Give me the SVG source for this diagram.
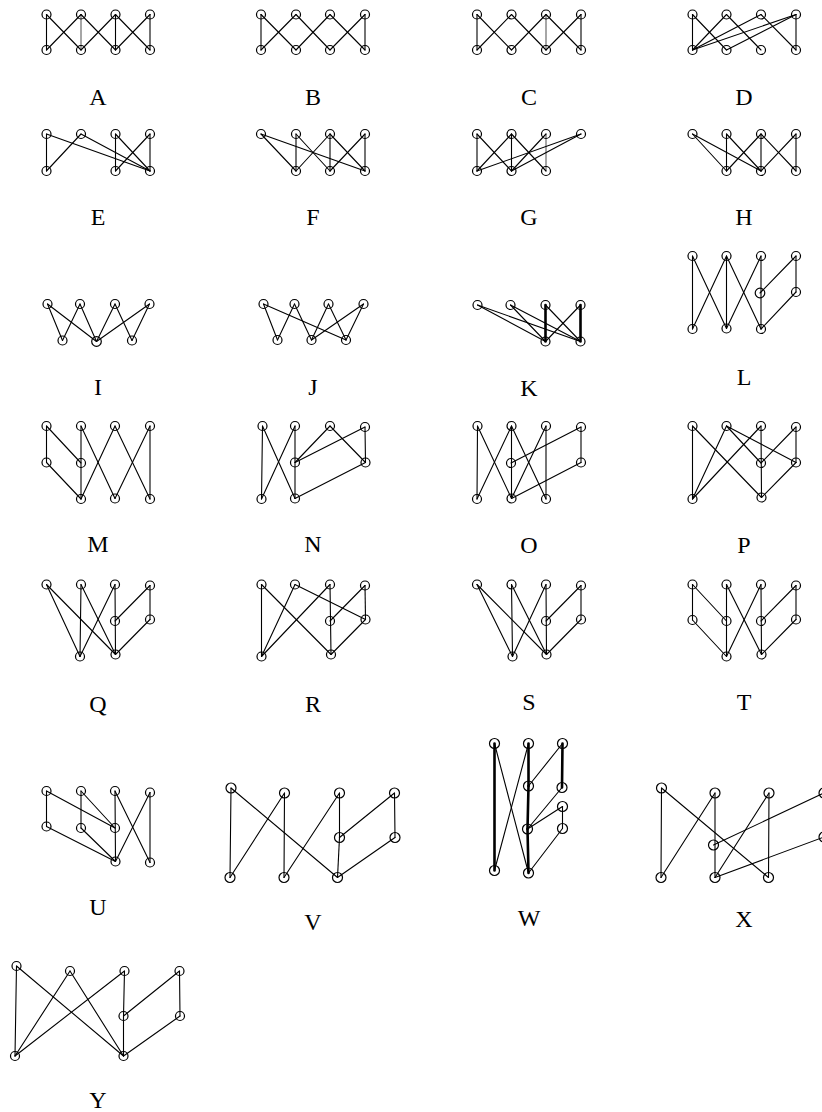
<svg xmlns="http://www.w3.org/2000/svg" width="822" height="1112" viewBox="0 0 822 1112">
<style>
.e line{stroke:#000;stroke-width:1.1;stroke-linecap:round}
.e line.thin{stroke-width:0.7}
.e line.thick{stroke-width:2.6}
.n circle{fill:none;stroke:#000;stroke-width:1.2}
.lbl{font-family:"Liberation Serif","Times New Roman",serif;font-size:24px;text-anchor:middle;fill:#000}
</style>
<rect width="822" height="1112" fill="#fff"/>

<!-- A -->
<g id="graph-A">
<g class="e">
<line x1="46.5" y1="14.5" x2="46.5" y2="50"/><line x1="46.5" y1="14.5" x2="81" y2="50"/>
<line x1="81" y1="14.5" x2="46.5" y2="50"/><line class="thin" x1="81" y1="14.5" x2="81" y2="50"/>
<line x1="81" y1="14.5" x2="115.5" y2="50"/><line x1="115.5" y1="14.5" x2="81" y2="50"/>
<line x1="115.5" y1="14.5" x2="115.5" y2="50"/><line x1="115.5" y1="14.5" x2="150" y2="50"/>
<line x1="150" y1="14.5" x2="115.5" y2="50"/><line x1="150" y1="14.5" x2="150" y2="50"/>
</g>
<g class="n">
<circle id="A-t1" cx="46.5" cy="14.5" r="4.5"/><circle id="A-t2" cx="81" cy="14.5" r="4.5"/><circle id="A-t3" cx="115.5" cy="14.5" r="4.5"/><circle id="A-t4" cx="150" cy="14.5" r="4.5"/>
<circle id="A-b1" cx="46.5" cy="50" r="4.5"/><circle id="A-b2" cx="81" cy="50" r="4.5"/><circle id="A-b3" cx="115.5" cy="50" r="4.5"/><circle id="A-b4" cx="150" cy="50" r="4.5"/>
</g>
<text class="lbl" x="98" y="105">A</text>
</g>

<!-- B -->
<g id="graph-B">
<g class="e">
<line x1="261" y1="14.5" x2="261" y2="50"/><line x1="261" y1="14.5" x2="296" y2="50"/>
<line x1="296" y1="14.5" x2="261" y2="50"/><line x1="296" y1="14.5" x2="330" y2="50"/>
<line x1="330" y1="14.5" x2="296" y2="50"/><line x1="330" y1="14.5" x2="365" y2="50"/>
<line x1="365" y1="14.5" x2="330" y2="50"/><line x1="365" y1="14.5" x2="365" y2="50"/>
</g>
<g class="n">
<circle id="B-t1" cx="261" cy="14.5" r="4.5"/><circle id="B-t2" cx="296" cy="14.5" r="4.5"/><circle id="B-t3" cx="330" cy="14.5" r="4.5"/><circle id="B-t4" cx="365" cy="14.5" r="4.5"/>
<circle id="B-b1" cx="261" cy="50" r="4.5"/><circle id="B-b2" cx="296" cy="50" r="4.5"/><circle id="B-b3" cx="330" cy="50" r="4.5"/><circle id="B-b4" cx="365" cy="50" r="4.5"/>
</g>
<text class="lbl" x="313" y="105">B</text>
</g>

<!-- C -->
<g id="graph-C">
<g class="e">
<line x1="477" y1="14.5" x2="477" y2="50"/><line x1="477" y1="14.5" x2="511.5" y2="50"/>
<line x1="511.5" y1="14.5" x2="477" y2="50"/><line x1="511.5" y1="14.5" x2="546" y2="50"/>
<line x1="546" y1="14.5" x2="511.5" y2="50"/><line class="thin" x1="546" y1="14.5" x2="546" y2="50"/>
<line x1="546" y1="14.5" x2="581" y2="50"/><line x1="581" y1="14.5" x2="546" y2="50"/>
<line x1="581" y1="14.5" x2="581" y2="50"/>
</g>
<g class="n">
<circle id="C-t1" cx="477" cy="14.5" r="4.5"/><circle id="C-t2" cx="511.5" cy="14.5" r="4.5"/><circle id="C-t3" cx="546" cy="14.5" r="4.5"/><circle id="C-t4" cx="581" cy="14.5" r="4.5"/>
<circle id="C-b1" cx="477" cy="50" r="4.5"/><circle id="C-b2" cx="511.5" cy="50" r="4.5"/><circle id="C-b3" cx="546" cy="50" r="4.5"/><circle id="C-b4" cx="581" cy="50" r="4.5"/>
</g>
<text class="lbl" x="529" y="105">C</text>
</g>

<!-- D -->
<g id="graph-D">
<g class="e">
<line x1="692.5" y1="14.5" x2="692.5" y2="50"/><line x1="692.5" y1="14.5" x2="726.5" y2="50"/>
<line x1="726.5" y1="14.5" x2="692.5" y2="50"/><line x1="726.5" y1="14.5" x2="761" y2="50"/>
<line x1="761" y1="14.5" x2="692.5" y2="50"/><line x1="761" y1="14.5" x2="796" y2="50"/>
<line x1="796" y1="14.5" x2="692.5" y2="50"/><line x1="796" y1="14.5" x2="726.5" y2="50"/>
<line x1="796" y1="14.5" x2="796" y2="50"/>
</g>
<g class="n">
<circle id="D-t1" cx="692.5" cy="14.5" r="4.5"/><circle id="D-t2" cx="726.5" cy="14.5" r="4.5"/><circle id="D-t3" cx="761" cy="14.5" r="4.5"/><circle id="D-t4" cx="796" cy="14.5" r="4.5"/>
<circle id="D-b1" cx="692.5" cy="50" r="4.5"/><circle id="D-b2" cx="726.5" cy="50" r="4.5"/><circle id="D-b3" cx="761" cy="50" r="4.5"/><circle id="D-b4" cx="796" cy="50" r="4.5"/>
</g>
<text class="lbl" x="744" y="105">D</text>
</g>

<!-- E -->
<g id="graph-E">
<g class="e">
<line x1="46.5" y1="134" x2="46.5" y2="171"/><line x1="46.5" y1="134" x2="150" y2="171"/>
<line x1="81" y1="134" x2="46.5" y2="171"/><line x1="81" y1="134" x2="150" y2="171"/>
<line x1="115.5" y1="134" x2="115.5" y2="171"/><line x1="115.5" y1="134" x2="150" y2="171"/>
<line x1="150" y1="134" x2="115.5" y2="171"/><line x1="150" y1="134" x2="150" y2="171"/>
</g>
<g class="n">
<circle id="E-t1" cx="46.5" cy="134" r="4.5"/><circle id="E-t2" cx="81" cy="134" r="4.5"/><circle id="E-t3" cx="115.5" cy="134" r="4.5"/><circle id="E-t4" cx="150" cy="134" r="4.5"/>
<circle id="E-b1" cx="46.5" cy="171" r="4.5"/><circle id="E-b3" cx="115.5" cy="171" r="4.5"/><circle id="E-b4" cx="150" cy="171" r="4.5"/>
</g>
<text class="lbl" x="98" y="225">E</text>
</g>

<!-- F -->
<g id="graph-F">
<g class="e">
<line x1="261" y1="134" x2="296" y2="171"/><line x1="261" y1="134" x2="365" y2="171"/>
<line x1="296" y1="134" x2="296" y2="171"/><line x1="296" y1="134" x2="330" y2="171"/>
<line x1="330" y1="134" x2="296" y2="171"/><line x1="330" y1="134" x2="330" y2="171"/>
<line x1="330" y1="134" x2="365" y2="171"/><line x1="365" y1="134" x2="330" y2="171"/>
<line x1="365" y1="134" x2="365" y2="171"/>
</g>
<g class="n">
<circle id="F-t1" cx="261" cy="134" r="4.5"/><circle id="F-t2" cx="296" cy="134" r="4.5"/><circle id="F-t3" cx="330" cy="134" r="4.5"/><circle id="F-t4" cx="365" cy="134" r="4.5"/>
<circle id="F-b2" cx="296" cy="171" r="4.5"/><circle id="F-b3" cx="330" cy="171" r="4.5"/><circle id="F-b4" cx="365" cy="171" r="4.5"/>
</g>
<text class="lbl" x="313" y="225">F</text>
</g>

<!-- G -->
<g id="graph-G">
<g class="e">
<line x1="477" y1="134" x2="477" y2="171"/><line x1="477" y1="134" x2="511.5" y2="171"/>
<line x1="511.5" y1="134" x2="477" y2="171"/><line x1="511.5" y1="134" x2="511.5" y2="171"/>
<line x1="511.5" y1="134" x2="546" y2="171"/><line x1="546" y1="134" x2="511.5" y2="171"/>
<line class="thin" x1="546" y1="134" x2="546" y2="171"/><line x1="581" y1="134" x2="477" y2="171"/>
<line x1="581" y1="134" x2="511.5" y2="171"/>
</g>
<g class="n">
<circle id="G-t1" cx="477" cy="134" r="4.5"/><circle id="G-t2" cx="511.5" cy="134" r="4.5"/><circle id="G-t3" cx="546" cy="134" r="4.5"/><circle id="G-t4" cx="581" cy="134" r="4.5"/>
<circle id="G-b1" cx="477" cy="171" r="4.5"/><circle id="G-b2" cx="511.5" cy="171" r="4.5"/><circle id="G-b3" cx="546" cy="171" r="4.5"/>
</g>
<text class="lbl" x="529" y="225">G</text>
</g>

<!-- H -->
<g id="graph-H">
<g class="e">
<line x1="692.5" y1="134" x2="726.5" y2="171"/><line x1="692.5" y1="134" x2="761" y2="171"/>
<line x1="726.5" y1="134" x2="726.5" y2="171"/><line x1="726.5" y1="134" x2="761" y2="171"/>
<line x1="761" y1="134" x2="726.5" y2="171"/><line x1="761" y1="134" x2="761" y2="171"/>
<line x1="761" y1="134" x2="796" y2="171"/><line x1="796" y1="134" x2="761" y2="171"/>
<line x1="796" y1="134" x2="796" y2="171"/>
</g>
<g class="n">
<circle id="H-t1" cx="692.5" cy="134" r="4.5"/><circle id="H-t2" cx="726.5" cy="134" r="4.5"/><circle id="H-t3" cx="761" cy="134" r="4.5"/><circle id="H-t4" cx="796" cy="134" r="4.5"/>
<circle id="H-b2" cx="726.5" cy="171" r="4.5"/><circle id="H-b3" cx="761" cy="171" r="4.5"/><circle id="H-b4" cx="796" cy="171" r="4.5"/>
</g>
<text class="lbl" x="744" y="225">H</text>
</g>

<!-- I -->
<g id="graph-I">
<g class="e">
<line x1="47.5" y1="304" x2="62.5" y2="340.5"/><line x1="47.5" y1="304" x2="96.5" y2="341.5"/>
<line x1="80" y1="304" x2="62.5" y2="340.5"/><line x1="80" y1="304" x2="96.5" y2="341.5"/>
<line x1="115" y1="304" x2="96.5" y2="341.5"/><line x1="115" y1="304" x2="132" y2="340.5"/>
<line x1="149.5" y1="304" x2="96.5" y2="341.5"/><line x1="149.5" y1="304" x2="132" y2="340.5"/>
</g>
<g class="n">
<circle id="I-t1" cx="47.5" cy="304" r="4.5"/><circle id="I-t2" cx="80" cy="304" r="4.5"/><circle id="I-t3" cx="115" cy="304" r="4.5"/><circle id="I-t4" cx="149.5" cy="304" r="4.5"/>
<circle id="I-b1" cx="62.5" cy="340.5" r="4.5"/><circle id="I-b2" cx="96.5" cy="341.5" r="4.8"/><circle id="I-b3" cx="132" cy="340.5" r="4.5"/>
</g>
<text class="lbl" x="98" y="395">I</text>
</g>

<!-- J -->
<g id="graph-J">
<g class="e">
<line x1="263.5" y1="304" x2="277.5" y2="340"/><line x1="263.5" y1="304" x2="346" y2="340"/>
<line x1="294.5" y1="304" x2="277.5" y2="340"/><line x1="294.5" y1="304" x2="311.5" y2="340"/>
<line x1="328.5" y1="304" x2="311.5" y2="340"/><line x1="328.5" y1="304" x2="346" y2="340"/>
<line x1="363.5" y1="304" x2="311.5" y2="340"/><line x1="363.5" y1="304" x2="346" y2="340"/>
</g>
<g class="n">
<circle id="J-t1" cx="263.5" cy="304" r="4.5"/><circle id="J-t2" cx="294.5" cy="304" r="4.5"/><circle id="J-t3" cx="328.5" cy="304" r="4.5"/><circle id="J-t4" cx="363.5" cy="304" r="4.5"/>
<circle id="J-b1" cx="277.5" cy="340" r="4.5"/><circle id="J-b2" cx="311.5" cy="340" r="4.5"/><circle id="J-b3" cx="346" cy="340" r="4.5"/>
</g>
<text class="lbl" x="313" y="395">J</text>
</g>

<!-- K -->
<g id="graph-K">
<g class="e">
<line x1="477.5" y1="305" x2="545.5" y2="341.5"/><line x1="477.5" y1="305" x2="580.5" y2="341.5"/>
<line x1="510.5" y1="305" x2="545.5" y2="341.5"/><line x1="510.5" y1="305" x2="580.5" y2="341.5"/>
<line class="thick" x1="545.5" y1="305" x2="545.5" y2="341.5"/><line x1="545.5" y1="305" x2="580.5" y2="341.5"/>
<line x1="580.5" y1="305" x2="545.5" y2="341.5"/><line class="thick" x1="580.5" y1="305" x2="580.5" y2="341.5"/>
</g>
<g class="n">
<circle id="K-t1" cx="477.5" cy="305" r="4.5"/><circle id="K-t2" cx="510.5" cy="305" r="4.5"/><circle id="K-t3" cx="545.5" cy="305" r="4.5"/><circle id="K-t4" cx="580.5" cy="305" r="4.5"/>
<circle id="K-b1" cx="545.5" cy="341.5" r="4.5"/><circle id="K-b2" cx="580.5" cy="341.5" r="4.5"/>
</g>
<text class="lbl" x="529" y="396">K</text>
</g>

<!-- L -->
<g id="graph-L">
<g class="e">
<line x1="692.5" y1="256" x2="692.5" y2="329"/><line x1="692.5" y1="256" x2="726.5" y2="328.5"/>
<line x1="726.5" y1="256" x2="692.5" y2="329"/><line x1="726.5" y1="256" x2="726.5" y2="328.5"/>
<line x1="726.5" y1="256" x2="761" y2="329"/><line x1="761" y1="256" x2="726.5" y2="328.5"/>
<line x1="761" y1="256" x2="761" y2="329"/><line x1="796" y1="256" x2="760" y2="293"/>
<line x1="796" y1="256" x2="796" y2="292"/><line x1="796" y1="292" x2="761" y2="329"/>
</g>
<g class="n">
<circle id="L-t1" cx="692.5" cy="256" r="4.5"/><circle id="L-t2" cx="726.5" cy="256" r="4.5"/><circle id="L-t3" cx="761" cy="256" r="4.5"/><circle id="L-t4" cx="796" cy="256" r="4.5"/>
<circle id="L-m1" cx="760" cy="293" r="4.8"/><circle id="L-m2" cx="796" cy="292" r="4.5"/>
<circle id="L-b1" cx="692.5" cy="329" r="4.5"/><circle id="L-b2" cx="726.5" cy="328.5" r="4.5"/><circle id="L-b3" cx="761" cy="329" r="4.5"/>
</g>
<text class="lbl" x="744" y="385">L</text>
</g>

<!-- M -->
<g id="graph-M">
<g class="e">
<line x1="46.5" y1="426" x2="46.5" y2="462.5"/><line x1="46.5" y1="426" x2="81" y2="463"/>
<line x1="46.5" y1="462.5" x2="81" y2="499"/><line x1="81" y1="426" x2="81" y2="499"/>
<line x1="81" y1="426" x2="115" y2="498.5"/><line x1="115" y1="426" x2="81" y2="499"/>
<line x1="115" y1="426" x2="150" y2="499"/><line x1="150" y1="426" x2="115" y2="498.5"/>
<line x1="150" y1="426" x2="150" y2="499"/>
</g>
<g class="n">
<circle id="M-t1" cx="46.5" cy="426" r="4.5"/><circle id="M-t2" cx="81" cy="426" r="4.5"/><circle id="M-t3" cx="115" cy="426" r="4.5"/><circle id="M-t4" cx="150" cy="426" r="4.5"/>
<circle id="M-m1" cx="46.5" cy="462.5" r="4.5"/><circle id="M-m2" cx="81" cy="463" r="4.5"/>
<circle id="M-b1" cx="81" cy="499" r="4.5"/><circle id="M-b2" cx="115" cy="498.5" r="4.5"/><circle id="M-b3" cx="150" cy="499" r="4.5"/>
</g>
<text class="lbl" x="98" y="552">M</text>
</g>

<!-- N -->
<g id="graph-N">
<g class="e">
<line x1="262.5" y1="426" x2="261.5" y2="499"/><line x1="262.5" y1="426" x2="295" y2="498.5"/>
<line x1="295" y1="426" x2="261.5" y2="499"/><line x1="295" y1="426" x2="295" y2="498.5"/>
<line x1="295" y1="462.5" x2="330" y2="426"/><line x1="295" y1="462.5" x2="365" y2="427"/>
<line x1="330" y1="426" x2="365.5" y2="462.5"/><line x1="365" y1="427" x2="365.5" y2="462.5"/>
<line x1="365.5" y1="462.5" x2="295" y2="498.5"/>
</g>
<g class="n">
<circle id="N-t1" cx="262.5" cy="426" r="4.5"/><circle id="N-t2" cx="295" cy="426" r="4.5"/><circle id="N-t3" cx="330" cy="426" r="4.5"/><circle id="N-t4" cx="365" cy="427" r="4.5"/>
<circle id="N-m1" cx="295" cy="462.5" r="4.5"/><circle id="N-m2" cx="365.5" cy="462.5" r="4.5"/>
<circle id="N-b1" cx="261.5" cy="499" r="4.5"/><circle id="N-b2" cx="295" cy="498.5" r="4.5"/>
</g>
<text class="lbl" x="313" y="552">N</text>
</g>

<!-- O -->
<g id="graph-O">
<g class="e">
<line x1="477.5" y1="426" x2="477" y2="499"/><line x1="477.5" y1="426" x2="511.5" y2="498.5"/>
<line x1="511.5" y1="426" x2="477" y2="499"/><line x1="511.5" y1="426" x2="511.5" y2="498.5"/>
<line x1="511.5" y1="426" x2="546" y2="499"/><line x1="546" y1="426" x2="511.5" y2="498.5"/>
<line x1="546" y1="426" x2="546" y2="499"/><line x1="511" y1="463" x2="581" y2="427"/>
<line x1="581" y1="427" x2="581" y2="462.5"/><line x1="581" y1="462.5" x2="511.5" y2="498.5"/>
</g>
<g class="n">
<circle id="O-t1" cx="477.5" cy="426" r="4.5"/><circle id="O-t2" cx="511.5" cy="426" r="4.5"/><circle id="O-t3" cx="546" cy="426" r="4.5"/><circle id="O-t4" cx="581" cy="427" r="4.5"/>
<circle id="O-m1" cx="511" cy="463" r="4.5"/><circle id="O-m2" cx="581" cy="462.5" r="4.5"/>
<circle id="O-b1" cx="477" cy="499" r="4.5"/><circle id="O-b2" cx="511.5" cy="498.5" r="4.5"/><circle id="O-b3" cx="546" cy="499" r="4.5"/>
</g>
<text class="lbl" x="529" y="553">O</text>
</g>

<!-- P -->
<g id="graph-P">
<g class="e">
<line x1="692.5" y1="426" x2="692.5" y2="499"/><line x1="692.5" y1="426" x2="761.5" y2="497.5"/>
<line x1="726.5" y1="426" x2="692.5" y2="499"/><line x1="761" y1="426" x2="692.5" y2="499"/>
<line x1="726.5" y1="426" x2="761" y2="463"/><line x1="726.5" y1="426" x2="796" y2="462.5"/>
<line x1="761" y1="426" x2="761.5" y2="497.5"/><line x1="796" y1="427" x2="761" y2="463"/>
<line x1="796" y1="427" x2="796" y2="462.5"/><line x1="796" y1="462.5" x2="761.5" y2="497.5"/>
</g>
<g class="n">
<circle id="P-t1" cx="692.5" cy="426" r="4.5"/><circle id="P-t2" cx="726.5" cy="426" r="4.5"/><circle id="P-t3" cx="761" cy="426" r="4.5"/><circle id="P-t4" cx="796" cy="427" r="4.5"/>
<circle id="P-m1" cx="761" cy="463" r="4.5"/><circle id="P-m2" cx="796" cy="462.5" r="4.5"/>
<circle id="P-b1" cx="692.5" cy="499" r="4.5"/><circle id="P-b2" cx="761.5" cy="497.5" r="4.5"/>
</g>
<text class="lbl" x="744" y="553">P</text>
</g>

<!-- Q -->
<g id="graph-Q">
<g class="e">
<line x1="46.5" y1="584.5" x2="80" y2="656.5"/><line x1="46.5" y1="584.5" x2="115.5" y2="654.5"/>
<line x1="81" y1="584.5" x2="80" y2="656.5"/><line x1="81" y1="584.5" x2="115.5" y2="654.5"/>
<line x1="115" y1="584.5" x2="80" y2="656.5"/><line x1="115" y1="584.5" x2="115.5" y2="654.5"/>
<line x1="115" y1="621" x2="150" y2="585.5"/><line x1="150" y1="585.5" x2="150" y2="619.5"/>
<line x1="150" y1="619.5" x2="115.5" y2="654.5"/>
</g>
<g class="n">
<circle id="Q-t1" cx="46.5" cy="584.5" r="4.5"/><circle id="Q-t2" cx="81" cy="584.5" r="4.5"/><circle id="Q-t3" cx="115" cy="584.5" r="4.5"/><circle id="Q-t4" cx="150" cy="585.5" r="4.5"/>
<circle id="Q-m1" cx="115" cy="621" r="4.5"/><circle id="Q-m2" cx="150" cy="619.5" r="4.5"/>
<circle id="Q-b1" cx="80" cy="656.5" r="4.5"/><circle id="Q-b2" cx="115.5" cy="654.5" r="4.5"/>
</g>
<text class="lbl" x="98" y="712">Q</text>
</g>

<!-- R -->
<g id="graph-R">
<g class="e">
<line x1="261.5" y1="584.5" x2="261.5" y2="656.5"/><line x1="261.5" y1="584.5" x2="331" y2="654.5"/>
<line x1="295" y1="584.5" x2="261.5" y2="656.5"/><line x1="295" y1="584.5" x2="365.5" y2="619.5"/>
<line x1="330" y1="584.5" x2="261.5" y2="656.5"/><line x1="330" y1="584.5" x2="331" y2="654.5"/>
<line x1="330" y1="621" x2="365" y2="585.5"/><line x1="365" y1="585.5" x2="365.5" y2="619.5"/>
<line x1="365.5" y1="619.5" x2="331" y2="654.5"/>
</g>
<g class="n">
<circle id="R-t1" cx="261.5" cy="584.5" r="4.5"/><circle id="R-t2" cx="295" cy="584.5" r="4.5"/><circle id="R-t3" cx="330" cy="584.5" r="4.5"/><circle id="R-t4" cx="365" cy="585.5" r="4.5"/>
<circle id="R-m1" cx="330" cy="621" r="4.5"/><circle id="R-m2" cx="365.5" cy="619.5" r="4.5"/>
<circle id="R-b1" cx="261.5" cy="656.5" r="4.5"/><circle id="R-b2" cx="331" cy="654.5" r="4.5"/>
</g>
<text class="lbl" x="313" y="712">R</text>
</g>

<!-- S -->
<g id="graph-S">
<g class="e">
<line x1="477" y1="584.5" x2="512.5" y2="656.5"/><line x1="477" y1="584.5" x2="546.5" y2="654.5"/>
<line x1="511.5" y1="584.5" x2="512.5" y2="656.5"/><line x1="511.5" y1="584.5" x2="546.5" y2="654.5"/>
<line x1="546" y1="584.5" x2="512.5" y2="656.5"/><line x1="546" y1="584.5" x2="546.5" y2="654.5"/>
<line x1="546" y1="621" x2="581" y2="585.5"/><line x1="581" y1="585.5" x2="581" y2="619.5"/>
<line x1="581" y1="619.5" x2="546.5" y2="654.5"/>
</g>
<g class="n">
<circle id="S-t1" cx="477" cy="584.5" r="4.5"/><circle id="S-t2" cx="511.5" cy="584.5" r="4.5"/><circle id="S-t3" cx="546" cy="584.5" r="4.5"/><circle id="S-t4" cx="581" cy="585.5" r="4.5"/>
<circle id="S-m1" cx="546" cy="621" r="4.5"/><circle id="S-m2" cx="581" cy="619.5" r="4.5"/>
<circle id="S-b1" cx="512.5" cy="656.5" r="4.5"/><circle id="S-b2" cx="546.5" cy="654.5" r="4.5"/>
</g>
<text class="lbl" x="529" y="710">S</text>
</g>

<!-- T -->
<g id="graph-T">
<g class="e">
<line x1="692.5" y1="584.5" x2="692.5" y2="620"/><line x1="692.5" y1="584.5" x2="726.5" y2="621"/>
<line x1="692.5" y1="620" x2="726.5" y2="656.5"/><line x1="726.5" y1="584.5" x2="726.5" y2="656.5"/>
<line x1="726.5" y1="584.5" x2="761.5" y2="654.5"/><line x1="761" y1="584.5" x2="726.5" y2="656.5"/>
<line x1="761" y1="584.5" x2="761.5" y2="654.5"/><line x1="761" y1="621" x2="796" y2="585.5"/>
<line x1="796" y1="585.5" x2="796" y2="619.5"/><line x1="796" y1="619.5" x2="761.5" y2="654.5"/>
</g>
<g class="n">
<circle id="T-t1" cx="692.5" cy="584.5" r="4.5"/><circle id="T-t2" cx="726.5" cy="584.5" r="4.5"/><circle id="T-t3" cx="761" cy="584.5" r="4.5"/><circle id="T-t4" cx="796" cy="585.5" r="4.5"/>
<circle id="T-m1" cx="692.5" cy="620" r="4.5"/><circle id="T-m2" cx="726.5" cy="621" r="4.5"/><circle id="T-m3" cx="761" cy="621" r="4.5"/><circle id="T-m4" cx="796" cy="619.5" r="4.5"/>
<circle id="T-b1" cx="726.5" cy="656.5" r="4.5"/><circle id="T-b2" cx="761.5" cy="654.5" r="4.5"/>
</g>
<text class="lbl" x="744" y="710">T</text>
</g>

<!-- U -->
<g id="graph-U">
<g class="e">
<line x1="46.5" y1="791" x2="46.5" y2="826.5"/><line x1="46.5" y1="791" x2="115" y2="828"/>
<line x1="81" y1="791" x2="81" y2="828"/><line x1="81" y1="791" x2="115" y2="828"/>
<line x1="46.5" y1="826.5" x2="115.5" y2="861.5"/><line x1="81" y1="828" x2="115.5" y2="861.5"/>
<line x1="115" y1="791" x2="115.5" y2="861.5"/><line x1="115" y1="791" x2="150" y2="862.5"/>
<line x1="150" y1="792.5" x2="115.5" y2="861.5"/><line x1="150" y1="792.5" x2="150" y2="862.5"/>
</g>
<g class="n">
<circle id="U-t1" cx="46.5" cy="791" r="4.5"/><circle id="U-t2" cx="81" cy="791" r="4.5"/><circle id="U-t3" cx="115" cy="791" r="4.5"/><circle id="U-t4" cx="150" cy="792.5" r="4.5"/>
<circle id="U-m1" cx="46.5" cy="826.5" r="4.5"/><circle id="U-m2" cx="81" cy="828" r="4.5"/><circle id="U-m3" cx="115" cy="828" r="4.5"/>
<circle id="U-b1" cx="115.5" cy="861.5" r="4.5"/><circle id="U-b2" cx="150" cy="862.5" r="4.5"/>
</g>
<text class="lbl" x="98" y="915">U</text>
</g>

<!-- V -->
<g id="graph-V">
<g class="e">
<line x1="231" y1="788" x2="230" y2="877.5"/><line x1="231" y1="788" x2="337.5" y2="877.5"/>
<line x1="284.5" y1="793" x2="230" y2="877.5"/><line x1="284.5" y1="793" x2="284" y2="877.5"/>
<line x1="339.5" y1="793" x2="284" y2="877.5"/><line x1="339.5" y1="793" x2="339.5" y2="837.5"/>
<line x1="339.5" y1="837.5" x2="337.5" y2="877.5"/><line x1="339.5" y1="837.5" x2="394.5" y2="793"/>
<line x1="394.5" y1="793" x2="395" y2="837.5"/><line x1="395" y1="837.5" x2="337.5" y2="877.5"/>
</g>
<g class="n">
<circle id="V-t1" cx="231" cy="788" r="5"/><circle id="V-t2" cx="284.5" cy="793" r="5"/><circle id="V-t3" cx="339.5" cy="793" r="5"/><circle id="V-t4" cx="394.5" cy="793" r="5"/>
<circle id="V-m1" cx="339.5" cy="837.5" r="5"/><circle id="V-m2" cx="395" cy="837.5" r="5"/>
<circle id="V-b1" cx="230" cy="877.5" r="5"/><circle id="V-b2" cx="284" cy="877.5" r="5"/><circle id="V-b3" cx="337.5" cy="877.5" r="5"/>
</g>
<text class="lbl" x="313" y="930">V</text>
</g>

<!-- W -->
<g id="graph-W">
<g class="e">
<line class="thick" x1="494.5" y1="743.5" x2="494.5" y2="870.5"/><line x1="494.5" y1="743.5" x2="528.5" y2="873"/>
<line x1="528.5" y1="743.5" x2="494.5" y2="870.5"/><line class="thick" x1="528.5" y1="743.5" x2="528.5" y2="786"/>
<line class="thick" x1="528.5" y1="786" x2="527.5" y2="829"/><line class="thick" x1="527.5" y1="829" x2="528.5" y2="873"/>
<line x1="528.5" y1="786" x2="562.5" y2="743.5"/><line class="thick" x1="562.5" y1="743.5" x2="562" y2="787.5"/>
<line x1="562" y1="787.5" x2="527.5" y2="829"/><line x1="562.5" y1="806.5" x2="527.5" y2="829"/>
<line x1="562.5" y1="806.5" x2="562.5" y2="828.5"/><line x1="562.5" y1="828.5" x2="528.5" y2="873"/>
</g>
<g class="n">
<circle id="W-t1" cx="494.5" cy="743.5" r="5"/><circle id="W-t2" cx="528.5" cy="743.5" r="5"/><circle id="W-t3" cx="562.5" cy="743.5" r="5"/>
<circle id="W-m1" cx="528.5" cy="786" r="5"/><circle id="W-m2" cx="527.5" cy="829" r="5"/>
<circle id="W-c1" cx="562" cy="787.5" r="5"/><circle id="W-c2" cx="562.5" cy="806.5" r="5"/><circle id="W-c3" cx="562.5" cy="828.5" r="5"/>
<circle id="W-b1" cx="494.5" cy="870.5" r="5"/><circle id="W-b2" cx="528.5" cy="873" r="5"/>
</g>
<text class="lbl" x="529" y="926">W</text>
</g>

<!-- X -->
<g id="graph-X">
<g class="e">
<line x1="661.5" y1="788" x2="661" y2="877.5"/><line x1="661.5" y1="788" x2="768.5" y2="877.5"/>
<line x1="715" y1="793" x2="661" y2="877.5"/><line x1="715" y1="793" x2="715" y2="877.5"/>
<line x1="713.5" y1="845" x2="824" y2="793"/><line x1="769" y1="793" x2="715" y2="877.5"/>
<line x1="769" y1="793" x2="768.5" y2="877.5"/><line x1="715" y1="877.5" x2="824" y2="837"/>
</g>
<g class="n">
<circle id="X-t1" cx="661.5" cy="788" r="5"/><circle id="X-t2" cx="715" cy="793" r="5"/><circle id="X-t3" cx="769" cy="793" r="5"/><circle id="X-t4" cx="824" cy="793" r="5"/>
<circle id="X-m1" cx="713.5" cy="845" r="5"/><circle id="X-m2" cx="824" cy="837" r="5"/>
<circle id="X-b1" cx="661" cy="877.5" r="5"/><circle id="X-b2" cx="715" cy="877.5" r="5"/><circle id="X-b3" cx="768.5" cy="877.5" r="5"/>
</g>
<text class="lbl" x="744" y="927">X</text>
</g>

<!-- Y -->
<g id="graph-Y">
<g class="e">
<line x1="16.5" y1="966" x2="15" y2="1056"/><line x1="16.5" y1="966" x2="123.5" y2="1056"/>
<line x1="70" y1="971" x2="15" y2="1056"/><line x1="70" y1="971" x2="123.5" y2="1056"/>
<line x1="124.5" y1="971" x2="15" y2="1056"/><line x1="124.5" y1="971" x2="123.5" y2="1016"/>
<line x1="123.5" y1="1016" x2="179.5" y2="971"/><line x1="123.5" y1="1016" x2="123.5" y2="1056"/>
<line x1="179.5" y1="971" x2="180" y2="1016"/><line x1="180" y1="1016" x2="123.5" y2="1056"/>
</g>
<g class="n">
<circle id="Y-t1" cx="16.5" cy="966" r="4.5"/><circle id="Y-t2" cx="70" cy="971" r="4.5"/><circle id="Y-t3" cx="124.5" cy="971" r="4.5"/><circle id="Y-t4" cx="179.5" cy="971" r="4.5"/>
<circle id="Y-m1" cx="123.5" cy="1016" r="4.5"/><circle id="Y-m2" cx="180" cy="1016" r="4.5"/>
<circle id="Y-b1" cx="15" cy="1056" r="4.5"/><circle id="Y-b2" cx="123.5" cy="1056" r="4.5"/>
</g>
<text class="lbl" x="98" y="1108">Y</text>
</g>
</svg>
